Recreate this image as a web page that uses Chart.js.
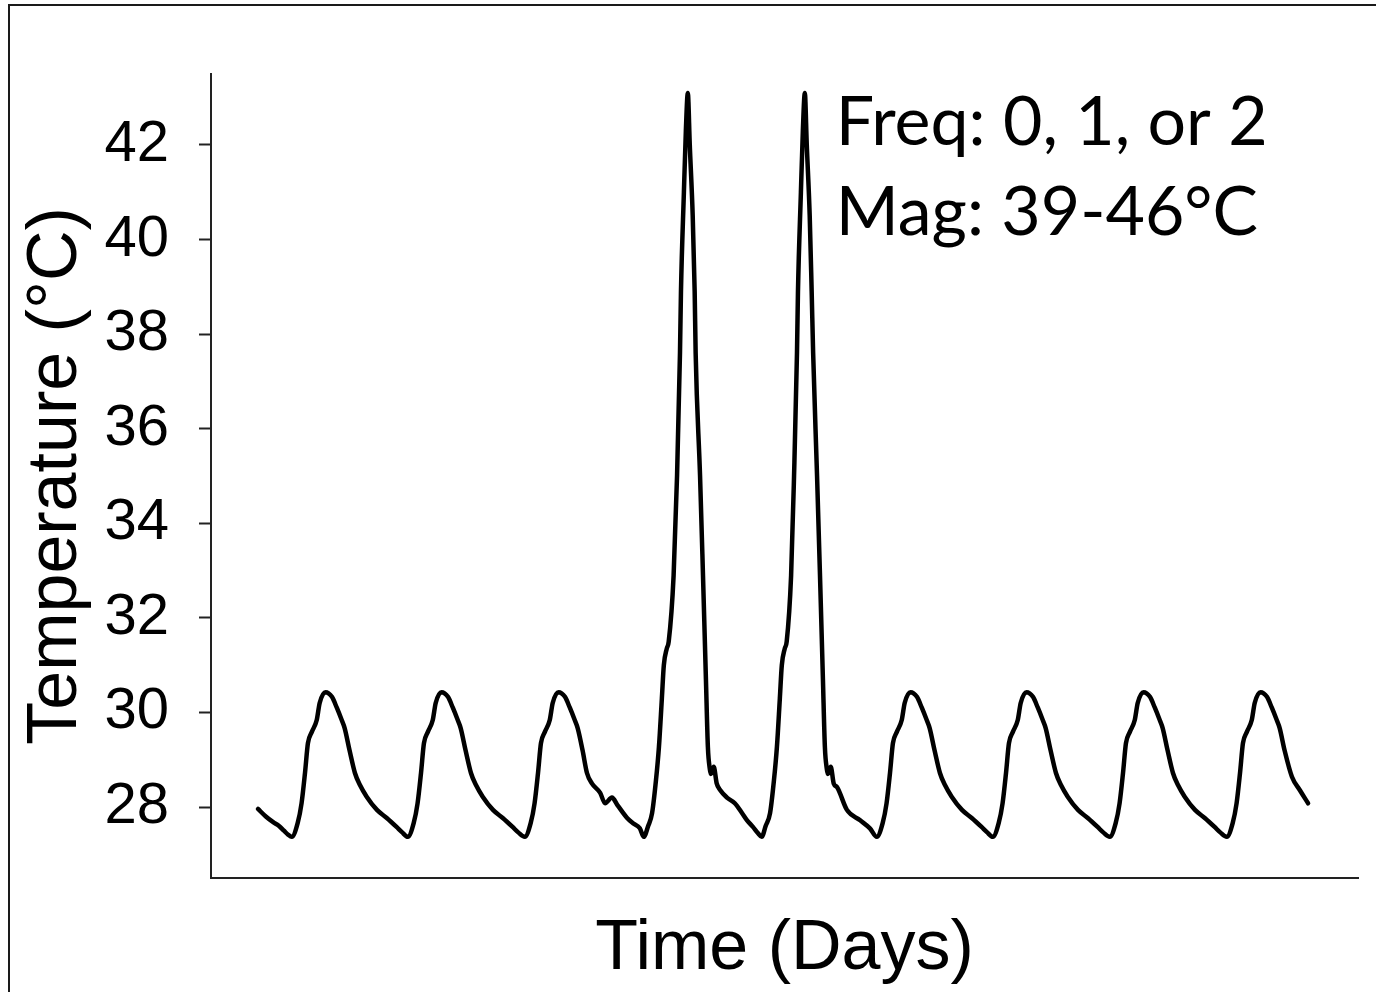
<!DOCTYPE html>
<html>
<head>
<meta charset="utf-8">
<script src="https://cdn.jsdelivr.net/npm/chart.js@4.4.0/dist/chart.umd.min.js"></script>
<style>
  body { margin: 0; background: #fff; }
  #wrap { position: relative; width: 1376px; height: 992px; overflow: hidden; }
  #frame { position: absolute; left: 8px; top: 4px; width: 1500px; height: 1100px;
           border-left: 2px solid #1a1a1a; border-top: 2px solid #1a1a1a; pointer-events: none; }
</style>
</head>
<body>
<div id="wrap">
  <canvas id="chart" width="1376" height="992"></canvas>
  <div id="frame"></div>
</div>
<script>
// time since start of record, hours
const timeHours = [
    0.0, 1.6, 3.1, 4.3, 5.3, 6.1,
    // day 1
    6.9, 8.1, 8.9, 9.6, 10.2, 11.0, 12.0, 12.6, 13.8, 15.1, 16.1, 17.1, 17.7, 18.7, 19.8, 20.8, 22.2, 24.3, 26.3, 28.3, 29.4,
    // day 2
    30.6, 31.8, 32.6, 33.3, 33.9, 34.7, 35.7, 36.3, 37.5, 38.8, 39.8, 40.8, 41.4, 42.4, 43.5, 44.5, 45.9, 48.0, 50.0, 52.0, 53.1,
    // day 3
    54.5, 55.7, 56.5, 57.2, 57.8, 58.6, 59.6, 60.2, 61.4, 62.7, 63.7, 64.7, 65.3, 66.3, 67.2, 68.2, 69.9, 70.9, 72.3, 73.5, 75.4, 76.6, 78.0,
    // day 4 (heat wave)
    78.8, 79.7, 80.5, 81.3, 81.9, 82.5, 82.9, 83.5, 83.9, 84.9, 85.6, 86.2, 86.4, 87.0, 87.4, 87.8, 88.2, 88.8, 89.2, 89.4,
    90.3, 90.9, 91.5, 91.9, 92.3, 92.5, 93.1, 93.7, 94.4, 95.8, 97.4, 98.9, 99.9, 101.1, 102.1,
    // day 5 (heat wave)
    102.9, 103.7, 104.6, 105.4, 106.0, 106.6, 107.0, 107.6, 108.0, 108.9, 109.5, 110.1, 110.3, 110.9, 111.3, 111.7, 112.1, 112.7, 113.1, 113.4,
    114.2, 114.8, 115.4, 115.8, 116.2, 116.4, 117.0, 117.6, 118.3, 120.3, 123.0, 125.0,
    // day 6
    126.4, 127.6, 128.4, 129.1, 129.7, 130.5, 131.5, 132.1, 133.3, 134.6, 135.6, 136.6, 137.2, 138.2, 139.3, 140.3, 141.7, 143.8, 145.8, 147.8, 148.9,
    // day 7
    150.1, 151.3, 152.1, 152.8, 153.4, 154.2, 155.2, 155.8, 157.0, 158.3, 159.3, 160.3, 160.9, 161.9, 163.0, 164.0, 165.4, 167.5, 169.5, 171.5, 172.6,
    // day 8
    174.0, 175.2, 176.0, 176.7, 177.3, 178.1, 179.1, 179.7, 180.9, 182.2, 183.2, 184.2, 184.8, 185.8, 186.9, 187.9, 189.3, 191.4, 193.4, 195.4, 196.5,
    // day 9
    197.9, 199.1, 199.9, 200.6, 201.2, 202.0, 203.0, 203.6, 204.8, 206.1, 207.1, 208.1, 208.7, 209.7, 211.2, 212.8, 214.5
];

const tempC = [
    27.96, 27.80, 27.68, 27.60, 27.50, 27.42,
    27.37, 27.66, 28.08, 28.72, 29.35, 29.59, 29.84, 30.20, 30.43, 30.33, 30.10, 29.84, 29.67, 29.20, 28.72, 28.47, 28.22, 27.94, 27.77, 27.58, 27.47,
    27.37, 27.66, 28.08, 28.72, 29.35, 29.59, 29.84, 30.20, 30.43, 30.33, 30.10, 29.84, 29.67, 29.20, 28.72, 28.47, 28.22, 27.94, 27.77, 27.58, 27.47,
    27.37, 27.66, 28.08, 28.72, 29.35, 29.59, 29.84, 30.20, 30.43, 30.33, 30.10, 29.84, 29.67, 29.20, 28.72, 28.50, 28.30, 28.08, 28.20, 28.03, 27.77, 27.66, 27.55,
    27.37, 27.60, 27.87, 28.57, 29.27, 30.30, 31.00, 31.35, 31.50, 32.90, 35.00, 37.60, 38.90, 41.00, 42.30, 43.10, 42.00, 40.50, 38.90, 37.60,
    35.00, 32.90, 30.70, 29.27, 28.80, 28.70, 28.85, 28.50, 28.36, 28.20, 28.08, 27.87, 27.72, 27.58, 27.45,
    27.37, 27.60, 27.87, 28.57, 29.27, 30.30, 31.00, 31.35, 31.50, 32.90, 35.00, 37.60, 38.90, 41.00, 42.30, 43.10, 42.00, 40.50, 38.90, 37.60,
    35.00, 32.90, 30.70, 29.27, 28.80, 28.70, 28.85, 28.50, 28.42, 27.94, 27.72, 27.55,
    27.37, 27.66, 28.08, 28.72, 29.35, 29.59, 29.84, 30.20, 30.43, 30.33, 30.10, 29.84, 29.67, 29.20, 28.72, 28.47, 28.22, 27.94, 27.77, 27.58, 27.47,
    27.37, 27.66, 28.08, 28.72, 29.35, 29.59, 29.84, 30.20, 30.43, 30.33, 30.10, 29.84, 29.67, 29.20, 28.72, 28.47, 28.22, 27.94, 27.77, 27.58, 27.47,
    27.37, 27.66, 28.08, 28.72, 29.35, 29.59, 29.84, 30.20, 30.43, 30.33, 30.10, 29.84, 29.67, 29.20, 28.72, 28.47, 28.22, 27.94, 27.77, 27.58, 27.47,
    27.37, 27.66, 28.08, 28.72, 29.35, 29.59, 29.84, 30.20, 30.43, 30.33, 30.10, 29.84, 29.67, 29.20, 28.64, 28.36, 28.08
];

const yTicks = [28, 30, 32, 34, 36, 38, 40, 42];
const noteLines = ['Freq: 0, 1, or 2', 'Mag: 39-46°C'];
const noteX = 118.0;          // hours
const noteY = [42.0, 40.1];   // baseline of each line, °C

const points = timeHours.map((t, i) => ({ x: t, y: tempC[i] }));

// text box in the top right
const notePlugin = {
    id: 'note',
    afterDraw(chart) {
        const ctx = chart.ctx;
        const xs = chart.scales.x, ys = chart.scales.y;
        ctx.save();
        ctx.font = '68px Lato';
        ctx.fillStyle = '#000';
        ctx.textBaseline = 'alphabetic';
        ctx.textAlign = 'left';
        noteLines.forEach((txt, i) => {
            ctx.fillText(txt, xs.getPixelForValue(noteX), ys.getPixelForValue(noteY[i]));
        });
        ctx.restore();
    }
};

const chart = document.getElementById('chart');

new Chart(chart, {
    type: 'line',
    data: {
        datasets: [{
            data: points,
            borderColor: '#000',
            borderWidth: 4.5,
            pointRadius: 0,
            cubicInterpolationMode: 'monotone',
            borderJoinStyle: 'round',
            borderCapStyle: 'round',
            fill: false
        }]
    },
    options: {
        responsive: false,
        animation: false,
        devicePixelRatio: 1,
        layout: {
            padding: { left: 11, right: 18, top: 74, bottom: 0 }
        },
        plugins: {
            legend: { display: false },
            tooltip: { enabled: false }
        },
        scales: {
            x: {
                type: 'linear',
                min: -9.6,
                max: 224.7,
                ticks: { display: false },
                grid: { display: true, drawOnChartArea: false, drawTicks: false },
                border: { display: true, color: '#222', width: 2 },
                title: {
                    display: true,
                    text: 'Time (Days)',
                    color: '#000',
                    font: { family: 'Liberation Sans', size: 70 },
                    padding: { top: 30, bottom: 0 }
                },
                afterFit(scale) { scale.height = 114; }
            },
            y: {
                min: 26.5,
                max: 43.5,
                afterBuildTicks(scale) {
                    scale.ticks = yTicks.map(v => ({ value: v }));
                },
                ticks: {
                    color: '#000',
                    padding: 30,
                    font: { family: 'Liberation Sans', size: 58 }
                },
                grid: { drawOnChartArea: false, drawTicks: true, tickLength: 12, tickColor: '#222', tickWidth: 2 },
                border: { display: true, color: '#222', width: 2 },
                title: {
                    display: true,
                    text: 'Temperature (°C)',
                    color: '#000',
                    font: { family: 'Liberation Sans', size: 70 },
                    padding: { top: 4, bottom: 0 }
                },
                afterFit(scale) { scale.width = 200; }
            }
        }
    },
    plugins: [notePlugin]
});
</script>
</body>
</html>
